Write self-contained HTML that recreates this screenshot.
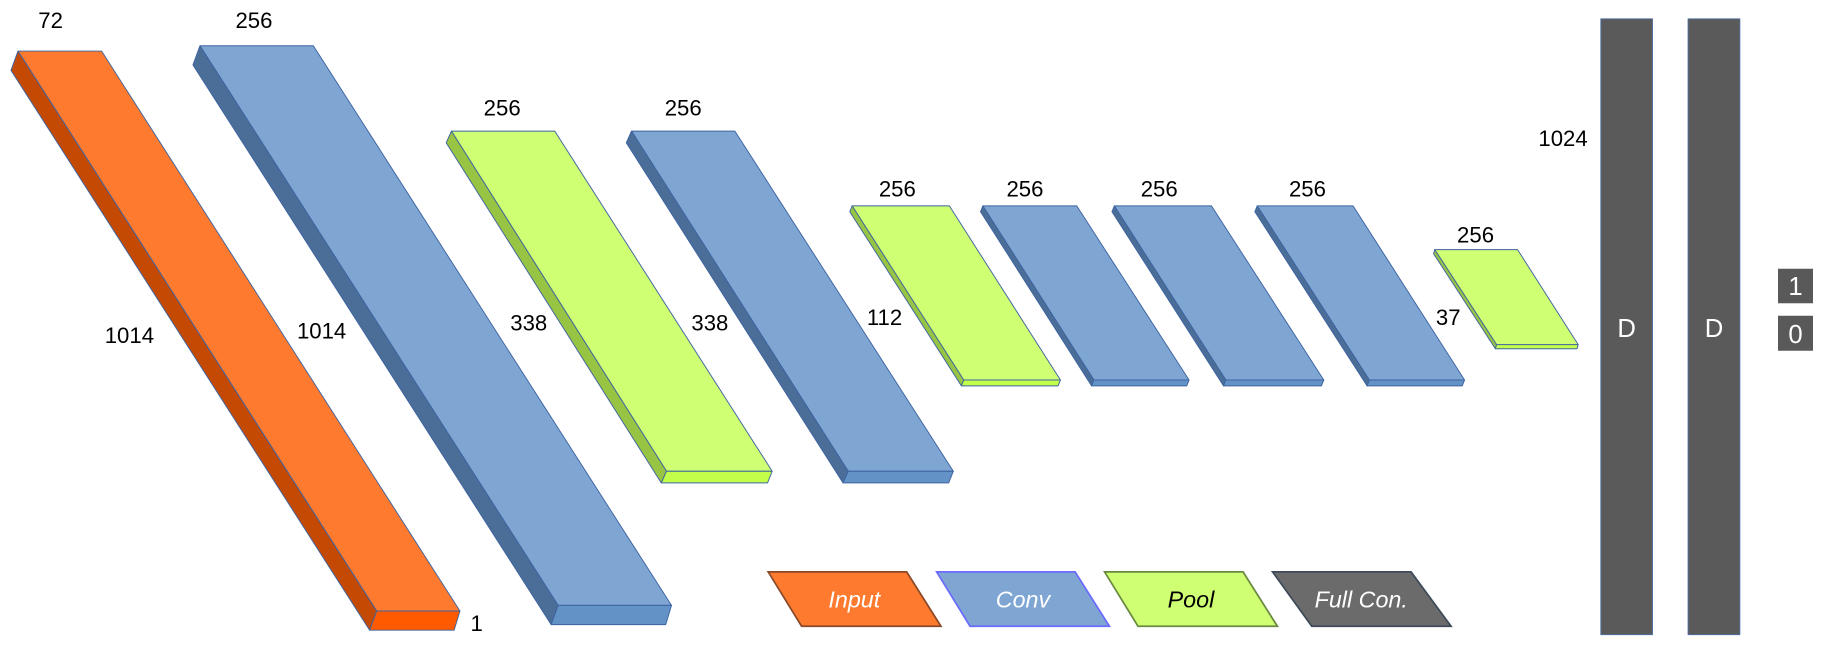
<!DOCTYPE html>
<html><head><meta charset="utf-8"><style>
html,body{margin:0;padding:0;background:#fff;}
svg{display:block;}
text{font-family:"Liberation Sans",sans-serif;}
</style></head><body>
<svg width="1829" height="649" viewBox="0 0 1568 556.4" xmlns="http://www.w3.org/2000/svg">
<g stroke="#3d63a0" stroke-width="0.8" stroke-linejoin="round">
<!-- Orange -->
<polygon fill="#fe7a2e" points="15.4,43.8 87.1,43.8 394.3,523.8 322.9,523.8"/>
<polygon fill="#c44a04" points="15.4,43.8 9.4,60.3 316.9,540.3 322.9,523.8"/>
<polygon fill="#ff5a00" points="322.9,523.8 394.3,523.8 389.3,540.3 316.9,540.3"/>
<!-- Blue1 -->
<polygon fill="#7fa6d3" points="171.4,39.2 268.6,39.2 575.7,519 478.5,519"/>
<polygon fill="#4b6e99" points="171.4,39.2 165.4,55.7 472.5,535.5 478.5,519"/>
<polygon fill="#6393c6" points="478.5,519 575.7,519 570.7,535.5 472.5,535.5"/>
<!-- Pool1 -->
<polygon fill="#cfff73" points="387,112.4 475.6,112.4 662,404 571.4,404"/>
<polygon fill="#98c443" points="387,112.4 382.5,122.4 566.9,414 571.4,404"/>
<polygon fill="#c3ff4a" points="571.4,404 662,404 658,414 566.9,414"/>
<!-- Blue2 -->
<polygon fill="#7fa6d3" points="541.4,112.4 630,112.4 817.3,404 727.2,404"/>
<polygon fill="#4b6e99" points="541.4,112.4 536.9,122.4 722.7,414 727.2,404"/>
<polygon fill="#6393c6" points="727.2,404 817.3,404 813.3,414 722.7,414"/>
<!-- Pool2 -->
<polygon fill="#cfff73" points="730.5,176.5 813.9,176.5 909.1,325.8 826.2,325.8"/>
<polygon fill="#98c443" points="730.5,176.5 728.5,181.5 824.2,330.8 826.2,325.8"/>
<polygon fill="#c3ff4a" points="826.2,325.8 909.1,325.8 907.1,330.8 824.2,330.8"/>
<!-- Blue3 -->
<polygon fill="#7fa6d3" points="842.6,176.5 923.1,176.5 1019.4,325.8 937.8,325.8"/>
<polygon fill="#4b6e99" points="842.6,176.5 840.6,181.5 935.8,330.8 937.8,325.8"/>
<polygon fill="#6393c6" points="937.8,325.8 1019.4,325.8 1017.4,330.8 935.8,330.8"/>
<!-- Blue4 -->
<polygon fill="#7fa6d3" points="955.3,176.5 1038.6,176.5 1134.9,325.8 1050.9,325.8"/>
<polygon fill="#4b6e99" points="955.3,176.5 953.3,181.5 1048.9,330.8 1050.9,325.8"/>
<polygon fill="#6393c6" points="1050.9,325.8 1134.9,325.8 1132.9,330.8 1048.9,330.8"/>
<!-- Blue5 -->
<polygon fill="#7fa6d3" points="1077.8,176.5 1160,176.5 1255.6,325.8 1174,325.8"/>
<polygon fill="#4b6e99" points="1077.8,176.5 1075.8,181.5 1172,330.8 1174,325.8"/>
<polygon fill="#6393c6" points="1174,325.8 1255.6,325.8 1253.6,330.8 1172,330.8"/>
<!-- Pool3 -->
<polygon fill="#cfff73" points="1230,214 1301,214 1353,295.5 1283,295.5"/>
<polygon fill="#98c443" points="1230,214 1229,217.5 1282,299 1283,295.5"/>
<polygon fill="#c3ff4a" points="1283,295.5 1353,295.5 1352,299 1282,299"/>
<!-- Dense -->
<rect x="1372.4" y="16.1" width="44.3" height="528" fill="#5a5a5a" stroke="#4f6fa0"/>
<rect x="1447.2" y="16.1" width="44.4" height="528" fill="#5a5a5a" stroke="#4f6fa0"/>
</g>
<rect x="1524.3" y="230.4" width="30" height="29.6" fill="#595959"/>
<rect x="1524.3" y="270.7" width="30" height="30" fill="#595959"/>
<text x="1539.3" y="253" font-size="22" fill="#fff" text-anchor="middle">1</text>
<text x="1539.3" y="294" font-size="22" fill="#fff" text-anchor="middle">0</text>
<text x="1394.5" y="289" font-size="22" fill="#fff" text-anchor="middle">D</text>
<text x="1469.4" y="289" font-size="22" fill="#fff" text-anchor="middle">D</text>
<!-- Legend -->
<polygon points="658.6,490.3 777.3,490.3 806.7,536.9 687.2,536.9" fill="#fe7a2e" stroke="#8a4a2a" stroke-width="1.5"/>
<polygon points="803,490.3 921.7,490.3 951.1,536.9 831.6,536.9" fill="#7fa6d3" stroke="#6b6bff" stroke-width="1.5"/>
<polygon points="947,490.3 1065.7,490.3 1095.1,536.9 975.6,536.9" fill="#cfff73" stroke="#6a8a40" stroke-width="1.5"/>
<polygon points="1091,490.3 1209.7,490.3 1244,536.9 1124.6,536.9" fill="#6b6b6b" stroke="#3e4a5a" stroke-width="1.5"/>
<g font-size="20" font-style="italic" text-anchor="middle">
<text x="732.4" y="521" fill="#fff">Input</text>
<text x="877" y="521" fill="#fff">Conv</text>
<text x="1021" y="521" fill="#000">Pool</text>
<text x="1167" y="521" fill="#fff">Full Con.</text>
</g>
<!-- Labels -->
<g font-size="19" fill="#000" text-anchor="middle">
<text x="43.4" y="24">72</text>
<text x="217.7" y="24">256</text>
<text x="110.9" y="294">1014</text>
<text x="275.7" y="290">1014</text>
<text x="408.6" y="541">1</text>
<text x="430.5" y="99">256</text>
<text x="585.7" y="99">256</text>
<text x="453.3" y="283.5">338</text>
<text x="608.6" y="283.5">338</text>
<text x="758.3" y="278.5">112</text>
<text x="769.3" y="168.5">256</text>
<text x="878.7" y="168.5">256</text>
<text x="993.8" y="168.5">256</text>
<text x="1120.9" y="168.5">256</text>
<text x="1241.6" y="278.5">37</text>
<text x="1265" y="208">256</text>
<text x="1340" y="125">1024</text>
</g>
</svg>
</body></html>
